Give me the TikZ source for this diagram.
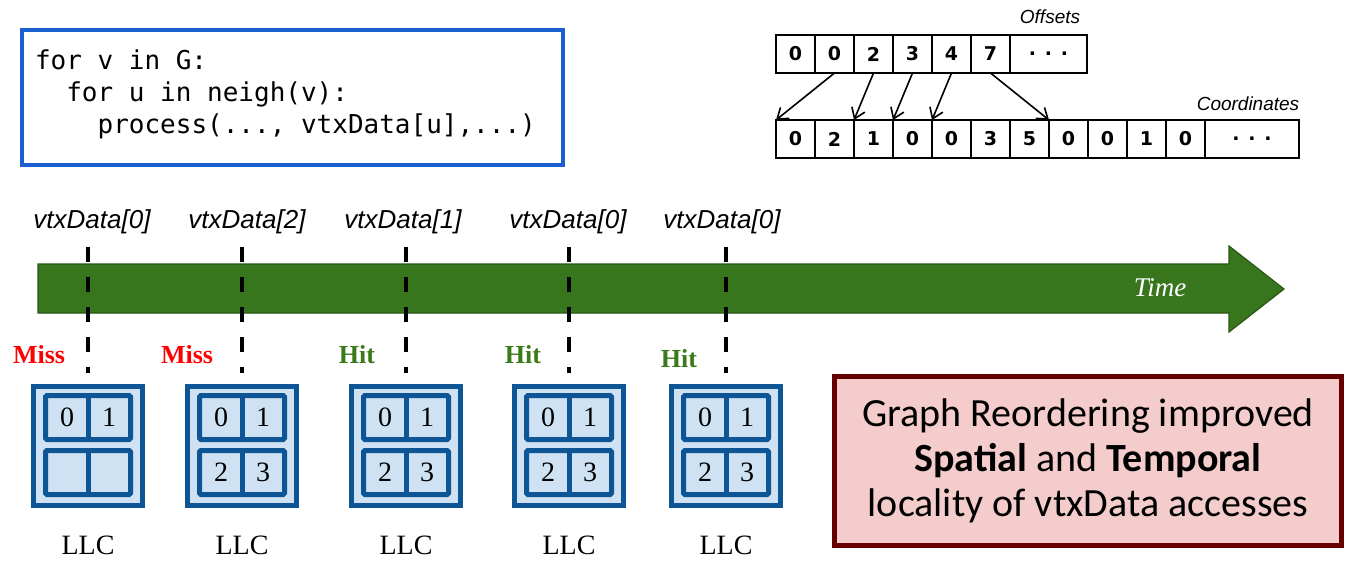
\documentclass[tikz,border=0pt]{standalone}
\usepackage{fontspec}
\usepackage{tikz}
\usetikzlibrary{arrows.meta, chains, positioning}
\setmainfont{Liberation Serif}
\newfontfamily\codefont{DejaVu Sans Mono}
\newfontfamily\cellfont{DejaVu Sans}
\newfontfamily\labelfont{Liberation Sans}
\newfontfamily\notefont{Carlito}
\definecolor{codeblue}{HTML}{1A5FD0}
\definecolor{timegreen}{HTML}{38761D}
\definecolor{timeedge}{HTML}{2A5716}
\definecolor{llcblue}{HTML}{0E5595}
\definecolor{llcfill}{HTML}{CFE2F3}
\definecolor{missred}{HTML}{FF0000}
\definecolor{hitgreen}{HTML}{3A7A1A}
\definecolor{noteedge}{HTML}{660000}
\definecolor{notefill}{HTML}{F4CCCC}
\tikzset{
>={Straight Barb[length=10pt,width=14pt]},
  codebox/.style={
    rectangle,
    draw=codeblue, line width=4,
    minimum width=541, minimum height=135},
  codetext/.style={
    text width=515, align=left,
    font=\codefont\fontsize{26}{32}\selectfont},
  cell/.style={
    rectangle,
    draw=black, line width=2,
    minimum width=39, minimum height=38,
    inner sep=0, outer sep=0,
    font=\cellfont\bfseries\fontsize{19}{19}\selectfont,
    on chain},
  arraylabel/.style={font=\labelfont\itshape\fontsize{19}{19}\selectfont},
  ptr/.style={draw, line width=1.6, ->},
  access/.style={draw=black, line width=4, dash pattern=on 15pt off 15pt},
  acclabel/.style={font=\labelfont\itshape\fontsize{26}{26}\selectfont},
  miss/.style={text=missred, font=\bfseries\fontsize{26}{26}\selectfont},
  hit/.style={text=hitgreen, font=\bfseries\fontsize{26}{26}\selectfont},
  llcbox/.style={
    rectangle,
    draw=llcblue, fill=llcfill, line width=5,
    minimum width=109, minimum height=119},
  llcrow/.style={
    rectangle, rounded corners=1.5,
    draw=llcblue, line width=5,
    minimum width=85, minimum height=44},
  llcline/.style={draw=llcblue, line width=5},
  llcdigit/.style={inner sep=0, font=\fontsize{28}{28}\selectfont},
  llclabel/.style={inner sep=0, font=\fontsize{28}{28}\selectfont},
  notebox/.style={
    rectangle,
    draw=noteedge, fill=notefill, line width=5,
    minimum width=507, minimum height=169,
    align=center,
    font=\notefont\fontsize{40}{45}\selectfont},
}
\begin{document}
\begin{tikzpicture}[x=1pt, y=-1pt]
\useasboundingbox (0,0) rectangle (1359,574);
% loop code
\node[codebox] (code) at (292.5,97.5) {};
\node[codetext] (codetxt) at ([yshift=3.5]code.center) {\spaceskip=15.65pt\relax for v in G:\\
\phantom{fo}for u in neigh(v):\\
\phantom{fora}process(..., vtxData[u],...)};
% offsets and coordinates arrays
\begin{scope}[start chain=offs going right, node distance=0pt]
  \node[cell] at (795.5,54) {0}; \node[cell] {0}; \node[cell] {2};
  \node[cell] {3}; \node[cell] {4}; \node[cell] {7};
  \node[cell, minimum width=77] {. . .};
\end{scope}
\begin{scope}[start chain=coords going right, node distance=0pt]
  \node[cell] at (795.5,139) {0}; \node[cell] {2}; \node[cell] {1};
  \node[cell] {0}; \node[cell] {0}; \node[cell] {3}; \node[cell] {5};
  \node[cell] {0}; \node[cell] {0}; \node[cell] {1}; \node[cell] {0};
  \node[cell, minimum width=94] {. . .};
\end{scope}
\node[arraylabel] (offlbl) at (1050,17) {Offsets};
\node[arraylabel] (coordlbl) at (1248,104) {Coordinates};
\draw[ptr] (offs-2.south) -- (coords-1.north west);
\draw[ptr] (offs-3.south) -- (coords-3.north west);
\draw[ptr] (offs-4.south) -- (coords-4.north west);
\draw[ptr] (offs-5.south) -- (coords-5.north west);
\draw[ptr] (offs-6.south) -- (coords-8.north west);
% time arrow
\filldraw[fill=timegreen, draw=timeedge, line width=1.2] (38,264) -- (1229,264) -- (1229,246) -- (1284,289) -- (1229,332) -- (1229,313) -- (38,313) -- cycle;
\node[text=white, font=\itshape\fontsize{27}{27}\selectfont] (time) at (1160,288) {Time};
% accesses
\node[acclabel] (acc1) at (92,222) {vtxData[0]};
\node[acclabel] (acc2) at (247,222) {vtxData[2]};
\node[acclabel] (acc3) at (403,222) {vtxData[1]};
\node[acclabel] (acc4) at (568,222) {vtxData[0]};
\node[acclabel] (acc5) at (722,222) {vtxData[0]};
\node[miss] (res1) at (39,355) {Miss};
\node[miss] (res2) at (187,355) {Miss};
\node[hit] (res3) at (357,355) {Hit};
\node[hit] (res4) at (523,355) {Hit};
\node[hit] (res5) at (679,359) {Hit};
% caches
\foreach \i/\x/\p/\q in {1/88/{}/{}, 2/242/2/3, 3/406/2/3, 4/569/2/3, 5/726/2/3} {
  \node[llcbox] (llc\i) at (\x,446) {};
  \draw[access] (\x,247) coordinate (ev\i) -- ([yshift=11]llc\i.north);
  \node[llcrow] (llc\i-top) at ([yshift=28.5]llc\i.center) {};
  \node[llcrow] (llc\i-bot) at ([yshift=-26.5]llc\i.center) {};
  \draw[llcline] (llc\i-top.north) -- (llc\i-top.south);
  \draw[llcline] (llc\i-bot.north) -- (llc\i-bot.south);
  \node[llcdigit] (llc\i-0) at ([xshift=-21]llc\i-top.center) {0};
  \node[llcdigit] (llc\i-1) at ([xshift=21]llc\i-top.center) {1};
  \node[llcdigit] (llc\i-2) at ([xshift=-21]llc\i-bot.center) {\p};
  \node[llcdigit] (llc\i-3) at ([xshift=21]llc\i-bot.center) {\q};
  \node[llclabel, below=28pt of llc\i] (llclbl\i) {LLC};
}
% conclusion
\node[notebox] (note) at (1088,461) {Graph Reordering improved\\
\textbf{Spatial} and \textbf{Temporal}\\
locality of vtxData accesses};
\end{tikzpicture}
\end{document}
